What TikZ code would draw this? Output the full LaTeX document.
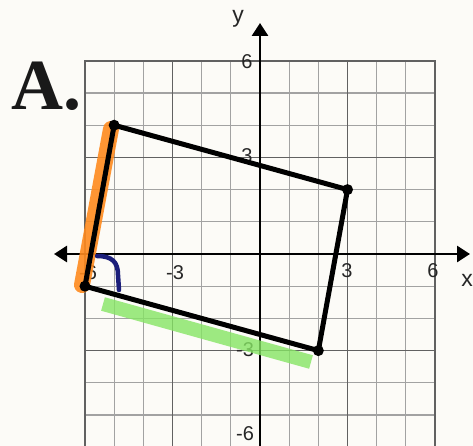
\documentclass[tikz,border=0pt]{standalone}
\usepackage{fontspec}
\setmainfont{Liberation Serif}
\setsansfont{Liberation Sans}
\usetikzlibrary{arrows.meta}
\definecolor{paper}{HTML}{FCFBF7}
\definecolor{minorc}{HTML}{A2A2A2}
\definecolor{majorc}{HTML}{616161}
\definecolor{hlorange}{HTML}{FF8A1E}
\definecolor{hlgreen}{HTML}{86E564}
\definecolor{navy}{HTML}{1B1E7A}
\begin{document}
\begin{tikzpicture}[x=1pt,y=-1pt,
  minorline/.style={draw=minorc,line width=1.2pt},
  majorline/.style={draw=majorc,line width=1.6pt},
  axisline/.style={draw=black,line width=2.8pt,-{Triangle[length=13pt,width=16pt]}},
  tick/.style={font=\sffamily\fontsize{20}{20}\selectfont,inner sep=0pt,text=black!85},
  axlabel/.style={font=\sffamily\fontsize{23}{23}\selectfont,inner sep=0pt,text=black!85},
  corner/.style={circle,fill=black,inner sep=0pt,minimum size=11pt},
  side/.style={draw=black,line width=5pt,line join=round},
  title/.style={font=\bfseries\fontsize{72}{72}\selectfont,inner sep=0pt,text=black!90}]
\fill[paper] (0,0) rectangle (473,446);
\useasboundingbox (0,0) rectangle (473,446);
\begin{scope}
\clip (0,0) rectangle (473,446);
% grid in data units
\begin{scope}[shift={(260,254)},x=29.17pt,y=32.2pt]
  \foreach \i in {-5,-4,-2,-1,1,2,4,5} {
    \draw[minorline] (\i,-6.2) -- (\i,6);
    \draw[minorline] (-6,\i) -- (6,\i);
  }
  \draw[minorline] (-6,0) -- (6,0);
  \foreach \i in {-3,3} {
    \draw[majorline] (\i,-6.2) -- (\i,6);
    \draw[majorline] (-6,\i) -- (6,\i);
  }
  \draw[majorline] (-6,-6.2) -- (-6,6) -- (6,6) -- (6,-6.2);
  % quadrilateral corners
  \coordinate (pA) at (-5,4);
  \coordinate (pB) at (3,2);
  \coordinate (pC) at (2,-3);
  \coordinate (pD) at (-6,-1);
\end{scope}
% axes
\coordinate (xl) at (54,254);
\coordinate (xr) at (470,254);
\coordinate (yb) at (260,450);
\coordinate (yt) at (260,23);
\draw[axisline] (yb) -- (yt);
\draw[axisline,{Triangle[length=13pt,width=16pt]}-{Triangle[length=13pt,width=16pt]}] (xl) -- (xr);
% tick labels
\node[tick] (tx6n) at (88,273) {-6};
\node[tick] (tx3n) at (175,273) {-3};
\node[tick] (tx3) at (347,271) {3};
\node[tick] (tx6) at (433,271) {6};
\node[tick] (ty6) at (247,62) {6};
\node[tick] (ty3) at (247,156) {3};
\node[tick] (ty3n) at (245,350) {-3};
\node[tick] (ty6n) at (245,434) {-6};
\node[axlabel] (ylab) at (238,19) {y};
\node[axlabel] (xlab) at (467,280) {x};
% highlights
\coordinate (oT) at (111,129);
\coordinate (oB) at (82,285);
\draw[hlorange,line width=16pt,line cap=round,opacity=0.9] (oT) -- (oB);
\coordinate (gS) at (103,304);
\coordinate (gE) at (311,362);
\draw[hlgreen,line width=14pt,opacity=0.8] (gS) -- (gE);
\coordinate (bS) at (97,256);
\coordinate (bE) at (119,290);
\draw[navy,line width=4.5pt,line cap=round] (bS) .. controls (112,256) and (118,262) .. (118,275) -- (bE);
% quadrilateral
\draw[side] (pA) -- (pB) -- (pC) -- (pD) -- cycle;
\node[corner] (cA) at (pA) {};
\node[corner] (cB) at (pB) {};
\node[corner] (cC) at (pC) {};
\node[corner] (cD) at (pD) {};
\end{scope}
\node[title,anchor=base west] (ttl) at (11,110) {A.};
\end{tikzpicture}
\end{document}
